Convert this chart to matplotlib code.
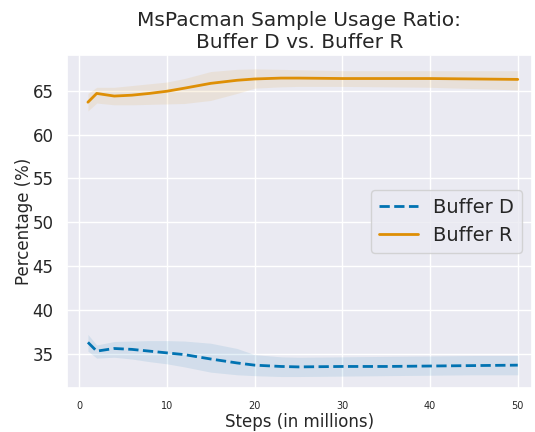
import numpy as np
import matplotlib
matplotlib.use('Agg')
import matplotlib.pyplot as plt
import seaborn as sns

# ****** Data ******
steps = [1, 2, 3, 4, 6, 8, 10, 12, 15, 18, 20, 23, 25, 30, 35, 40, 45, 50]

buffer_d_mean = [36.3, 35.3, 35.45, 35.6, 35.5, 35.3, 35.1, 34.9, 34.4, 33.95, 33.7, 33.55, 33.5, 33.55, 33.55, 33.6, 33.65, 33.7]
buffer_d_low = [35.3, 34.5, 34.55, 34.6, 34.4, 34.1, 33.85, 33.5, 32.9, 32.6, 32.5, 32.4, 32.4, 32.45, 32.5, 32.55, 32.6, 32.6]
buffer_d_high = [37.2, 36.0, 36.2, 36.4, 36.45, 36.5, 36.5, 36.45, 36.2, 35.6, 34.9, 34.65, 34.6, 34.65, 34.7, 34.75, 34.8, 34.8]

buffer_r_mean = [63.7, 64.7, 64.55, 64.4, 64.5, 64.7, 64.95, 65.3, 65.85, 66.2, 66.35, 66.45, 66.45, 66.4, 66.4, 66.4, 66.35, 66.3]
buffer_r_low = [62.7, 63.6, 63.5, 63.4, 63.4, 63.45, 63.5, 63.55, 63.9, 64.7, 65.3, 65.45, 65.5, 65.5, 65.45, 65.4, 65.25, 65.1]
buffer_r_high = [64.7, 65.4, 65.4, 65.4, 65.6, 65.8, 66.0, 66.4, 67.2, 67.45, 67.5, 67.45, 67.4, 67.3, 67.3, 67.3, 67.3, 67.3]

# ****** Plot ******
sns.set_theme(style='darkgrid')
colors = sns.color_palette('colorblind')

fig, ax = plt.subplots(figsize=(5.35, 4.32), dpi=100)
fig.subplots_adjust(left=0.125, right=0.994, top=0.873, bottom=0.102)

ax.plot(steps, buffer_d_mean, color=colors[0], linewidth=2, linestyle='--', label='Buffer D')
ax.fill_between(steps, buffer_d_low, buffer_d_high, color=colors[0], alpha=0.1, linewidth=0)
ax.plot(steps, buffer_r_mean, color=colors[1], linewidth=2, label='Buffer R')
ax.fill_between(steps, buffer_r_low, buffer_r_high, color=colors[1], alpha=0.1, linewidth=0)

ax.set_title('MsPacman Sample Usage Ratio:\nBuffer D vs. Buffer R', fontsize=14.5, pad=5)
ax.set_xlabel('Steps (in millions)', fontsize=12, labelpad=1)
ax.set_ylabel('Percentage (%)', fontsize=12, labelpad=0)
ax.tick_params(axis='x', labelsize=7)
ax.tick_params(axis='y', labelsize=12)
ax.set_xticks([0, 10, 20, 30, 40, 50])
ax.set_yticks([35, 40, 45, 50, 55, 60, 65])
ax.set_xlim(-1.4, 51.6)
ax.set_ylim(31.1, 69.1)
ax.legend(loc='center right', fontsize=14)

plt.savefig('out.png', dpi=100)
